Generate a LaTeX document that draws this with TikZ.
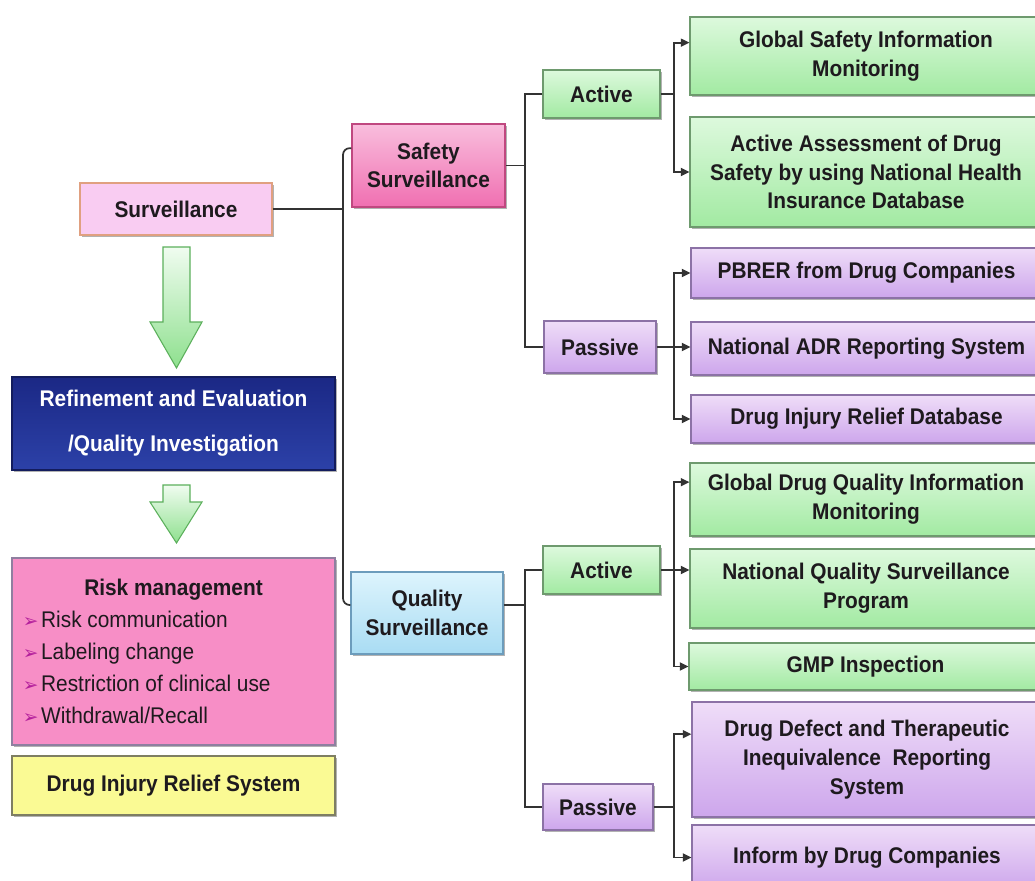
\documentclass[tikz,border=0pt]{standalone}
\usepackage{fontspec}
\setmainfont{Liberation Sans}[FakeStretch=0.92]
\newfontfamily\symfont{DejaVu Sans}
\usetikzlibrary{arrows.meta,shadows,calc}
\definecolor{txt}{HTML}{1E1A1E}
\definecolor{conncol}{HTML}{333333}
\definecolor{grnT}{HTML}{DDF9DD}
\definecolor{grnB}{HTML}{A2EAA2}
\definecolor{grnD}{HTML}{6E9A6E}
\definecolor{purT}{HTML}{EFDDF8}
\definecolor{purB}{HTML}{CDA6EC}
\definecolor{purD}{HTML}{8C72A6}
\definecolor{pnkT}{HTML}{F9BEDD}
\definecolor{pnkB}{HTML}{F06FB1}
\definecolor{pnkD}{HTML}{C04880}
\definecolor{bluT}{HTML}{DDF4FD}
\definecolor{bluB}{HTML}{A9DCF3}
\definecolor{bluD}{HTML}{6C9CBC}
\definecolor{svF}{HTML}{F9CCF2}
\definecolor{svD}{HTML}{E0A080}
\definecolor{reT}{HTML}{1B2885}
\definecolor{reB}{HTML}{2C41A8}
\definecolor{rmF}{HTML}{F78EC6}
\definecolor{rmD}{HTML}{8F7FA0}
\definecolor{ylF}{HTML}{FAFA94}
\definecolor{ylD}{HTML}{7E7E62}
\definecolor{bul}{HTML}{B4209C}
\definecolor{arT}{HTML}{F0FCF0}
\definecolor{arB}{HTML}{8EE08E}
\definecolor{arD}{HTML}{5CB05C}
\newcommand\bx[7]{\node[#6, minimum width={(#4-#2)*0.75pt}, minimum height={(#5-#3)*0.75pt}] (#1) at ({(#2+#4)/2},{(#3+#5)/2}) {#7};}
\newcommand\bulitem{\hspace*{8pt}{\symfont\fontsize{14}{24}\selectfont\color{bul}➢}\hspace{2pt}}
\begin{document}
\begin{tikzpicture}[x=0.75pt,y=-0.75pt,
  box/.style={draw, line width=0.8pt, inner sep=0pt, align=center,
    font=\fontsize{17}{21.5}\selectfont\bfseries, text=txt,
    drop shadow={shadow xshift=1.5pt, shadow yshift=-1.5pt, opacity=0.3, fill=black}},
  greenbox/.style={box, draw=grnD, top color=grnT, bottom color=grnB},
  purplebox/.style={box, draw=purD, top color=purT, bottom color=purB},
  pinkbox/.style={box, draw=pnkD, top color=pnkT, bottom color=pnkB},
  bluebox/.style={box, draw=bluD, top color=bluT, bottom color=bluB},
  svbox/.style={box, draw=svD, fill=svF},
  rebox/.style={box, draw=reT!70!black, top color=reT, bottom color=reB, text=white,
    font=\fontsize{17}{34}\selectfont\bfseries},
  rmbox/.style={box, draw=rmD, fill=rmF, font=\fontsize{17}{24}\selectfont},
  ylbox/.style={box, draw=ylD, fill=ylF},
  conn/.style={draw=conncol, line width=1.3pt},
  arr/.style={conn, -{Triangle[length=6.5pt,width=6pt]}},
  bigarrow/.style={draw=arD, line width=0.8pt, top color=arT, bottom color=arB}
]
\clip (0,0) rectangle (1035,881);
\fill[white] (0,0) rectangle (1035,881);

% left column
\bx{sv}{80}{183}{272}{235}{svbox}{Surveillance}
\bx{re}{12}{377}{335}{470}{rebox}{Refinement and Evaluation\\/Quality Investigation}
\bx{rm}{12}{558}{335}{745}{rmbox}{\begin{minipage}{242pt}
{\centering\bfseries Risk management\par}
\raggedright
\bulitem Risk communication\par
\bulitem Labeling change\par
\bulitem Restriction of clinical use\par
\bulitem Withdrawal/Recall\par
\end{minipage}}
\bx{dr}{12}{756}{335}{815}{ylbox}{Drug Injury Relief System}

\path[bigarrow] (163,247) -- (190,247) -- (190,322) -- (202,322) -- (176.5,368) -- (150,322) -- (163,322) -- cycle;
\path[bigarrow] (163,485) -- (190,485) -- (190,502) -- (202,502) -- (176.5,543) -- (150,502) -- (163,502) -- cycle;

% second column
\bx{ss}{352}{124}{505}{207}{pinkbox}{Safety\\Surveillance}
\bx{qs}{351}{572}{503}{654}{bluebox}{Quality\\Surveillance}

% third column
\bx{sa}{543}{70}{660}{118}{greenbox}{Active}
\bx{sp}{544}{321}{656}{373}{purplebox}{Passive}
\bx{qa}{543}{546}{660}{594}{greenbox}{Active}
\bx{qp}{543}{784}{653}{830}{purplebox}{Passive}

% leaves
\bx{g1}{690}{17}{1042}{95}{greenbox}{Global Safety Information\\Monitoring}
\bx{g2}{690}{117}{1042}{227}{greenbox}{Active Assessment of Drug\\Safety by using National Health\\Insurance Database}
\bx{p1}{691}{248}{1042}{298}{purplebox}{PBRER from Drug Companies}
\bx{p2}{691}{322}{1042}{375}{purplebox}{National ADR Reporting System}
\bx{p3}{691}{395}{1042}{443}{purplebox}{Drug Injury Relief Database}
\bx{q1}{690}{463}{1042}{536}{greenbox}{Global Drug Quality Information\\Monitoring}
\bx{q2}{690}{549}{1042}{628}{greenbox}{National Quality Surveillance\\Program}
\bx{q3}{689}{643}{1042}{690}{greenbox}{GMP Inspection}
\bx{d1}{692}{702}{1042}{817}{purplebox}{Drug Defect and Therapeutic\\Inequivalence~ Reporting\\System}
\bx{d2}{692}{825}{1042}{890}{purplebox}{Inform by Drug Companies}

% connectors
\coordinate (j1) at (343,400);
\coordinate (j2) at (525,300);
\coordinate (j4) at (525,700);
\coordinate (j3) at (674,100);
\draw[conn] (sv.east) -- (sv.east -| j1);
\draw[conn, rounded corners=5pt] ([yshift=13pt]ss.west) -| (j1) |- ([yshift=6pt]qs.west);
\draw[conn] (ss.east) -- (ss.east -| j2);
\draw[conn] (sa.west) -| (j2) |- (sp.west);
\draw[conn] ([yshift=6pt]qs.east) -- ([yshift=6pt]qs.east -| j4);
\draw[conn] (qa.west) -| (j4) |- (qp.west);

\draw[conn] (sa.east) -- (sa.east -| j3);
\draw[arr] (sa.east -| j3) |- ([yshift=10pt]g1.west);
\draw[arr] (sa.east -| j3) |- (g2.west);

\draw[arr] (sp.east) -- (sp.east -| p2.west);
\draw[arr] (sp.east -| j3) |- (p1.west);
\draw[arr] (sp.east -| j3) |- (p3.west);

\draw[arr] (qa.east) -- (qa.east -| q2.west);
\draw[arr] (qa.east -| j3) |- ([yshift=13pt]q1.west);
\draw[arr] (qa.east -| j3) |- (q3.west);

\draw[conn] (qp.east) -- (qp.east -| j3);
\draw[arr] (qp.east -| j3) |- ([yshift=19pt]d1.west);
\draw[arr] (qp.east -| j3) |- (d2.west);
\end{tikzpicture}
\end{document}
